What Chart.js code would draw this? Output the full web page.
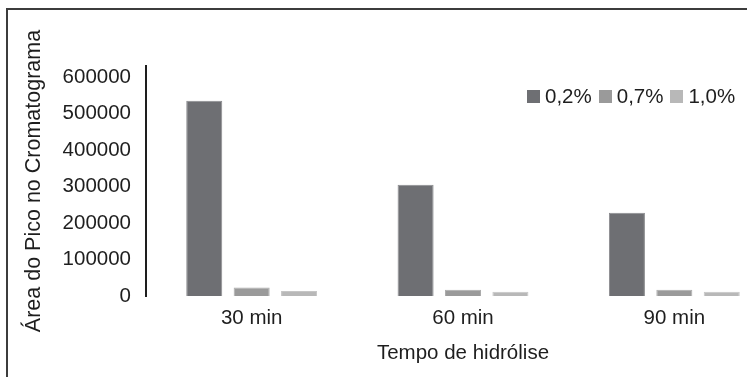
<!DOCTYPE html>
<html>
<head>
<meta charset="utf-8">
<script src="https://cdn.jsdelivr.net/npm/chart.js@4/dist/chart.umd.min.js"></script>
<style>
  html, body { margin: 0; padding: 0; background: #fff; }
  #wrap { position: relative; width: 747px; height: 377px; overflow: hidden; background: #fff; }
  #frame { position: absolute; left: 6px; top: 8px; width: 900px; height: 500px;
           border-left: 2px solid #3c3c3c; border-top: 2px solid #3c3c3c; box-sizing: border-box; }
  #cbox { position: absolute; left: 0; top: 0; width: 790px; height: 377px; }
  #legend { position: absolute; left: 527px; top: 84px; display: flex; align-items: center;
            font-family: "Liberation Sans", Arial, sans-serif; font-size: 20.5px; color: #1e1e1e; white-space: nowrap; }
  #legend .it { display: flex; align-items: center; margin-right: 7px; }
  #legend .sw { width: 13px; height: 13px; margin-right: 5px; }
</style>
</head>
<body>
<div id="wrap">
  <div id="frame"></div>
  <div id="cbox"><canvas id="c" width="790" height="377"></canvas></div>
  <div id="legend"></div>
</div>
<script>
const categories = ["30 min", "60 min", "90 min"];
const seriesNames = ["0,2%", "0,7%", "1,0%"];
const values02 = [535000, 305000, 228000];
const values07 = [23000, 17000, 17000];
const values10 = [13500, 11500, 11500];
const yTicks = [0, 100000, 200000, 300000, 400000, 500000, 600000];
const colors = ["#6e6f73", "#9a9a9a", "#b8b8b8"];
const edgeColors = ["#8a8b8e", "#acacac", "#c6c6c6"];

const seriesValues = [values02, values07, values10];
const font = "'Liberation Sans', Arial, sans-serif";

const chart = new Chart(document.getElementById('c'), {
  type: 'bar',
  data: {
    labels: categories,
    datasets: seriesNames.map((n, i) => ({
      label: n,
      data: seriesValues[i],
      backgroundColor: colors[i],
      borderColor: edgeColors[i],
      borderWidth: 1,
      categoryPercentage: 0.673,
      barPercentage: 0.76
    }))
  },
  options: {
    responsive: false,
    animation: false,
    devicePixelRatio: 1,
    layout: { padding: { left: 17, top: 66, right: 10, bottom: 0 } },
    plugins: { legend: { display: false }, tooltip: { enabled: false } },
    scales: {
      x: {
        grid: { display: false, drawTicks: false },
        border: { display: false },
        ticks: { color: '#1e1e1e', font: { family: font, size: 20.5 }, padding: 10 },
        title: { display: true, text: 'Tempo de hidrólise', color: '#1e1e1e',
                 font: { family: font, size: 20.5 }, padding: { top: 10, bottom: 11 } },
        afterFit: s => { s.height = 81; }
      },
      y: {
        min: 0, max: 630000,
        grid: { display: false, drawTicks: false },
        border: { display: true, color: '#1e1e1e', width: 2 },
        afterBuildTicks: s => { s.ticks = yTicks.map(v => ({ value: v })); },
        ticks: { color: '#1e1e1e', font: { family: font, size: 20.5 }, padding: 15,
                 callback: v => String(v) },
        title: { display: true, text: 'Área do Pico no Cromatograma', color: '#1e1e1e',
                 font: { family: font, size: 21.5 }, padding: { top: 4, bottom: 4 } },
        afterFit: s => { s.width = 129; }
      }
    }
  }
});

const leg = document.getElementById('legend');
seriesNames.forEach((n, i) => {
  const it = document.createElement('div'); it.className = 'it';
  const sw = document.createElement('div'); sw.className = 'sw'; sw.style.background = colors[i];
  const tx = document.createElement('span'); tx.textContent = n;
  it.appendChild(sw); it.appendChild(tx); leg.appendChild(it);
});
</script>
</body>
</html>
